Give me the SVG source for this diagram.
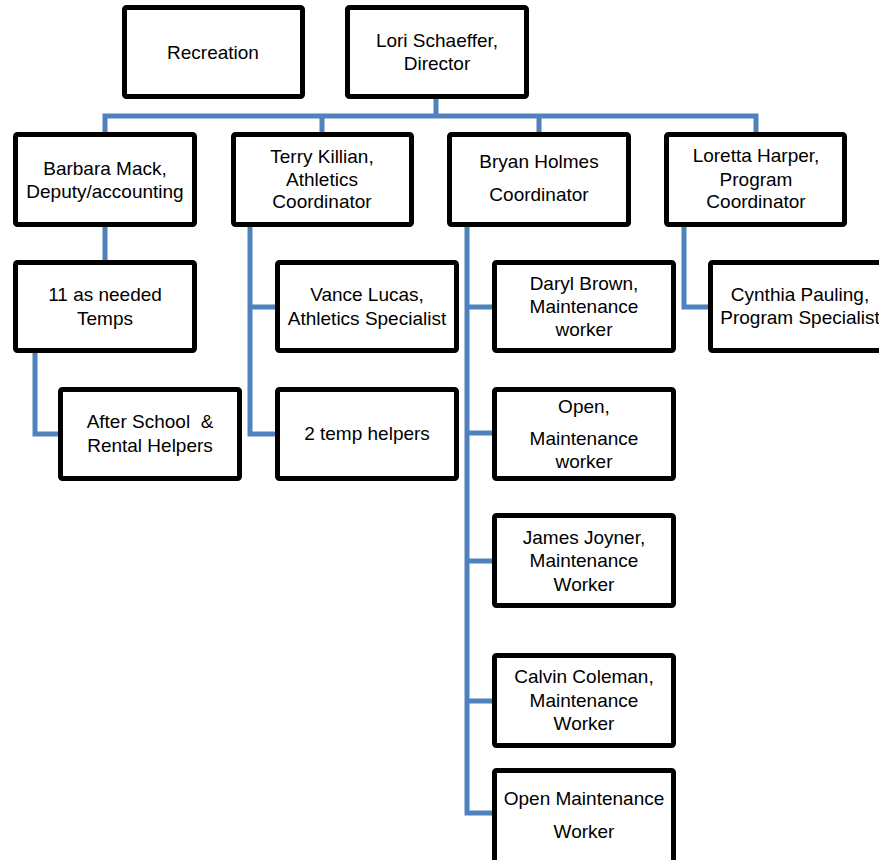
<svg xmlns="http://www.w3.org/2000/svg" width="879" height="860" viewBox="0 0 879 860">
<style>
.box{fill:#fff;stroke:#000;stroke-width:5}
.c{fill:none;stroke:#4F81BD;stroke-width:5}
text{font-family:"Liberation Sans",Arial,sans-serif;font-size:19px;fill:#000;text-anchor:middle}
</style>
<rect width="879" height="860" fill="#fff"/>
<g id="connectors">
<path class="c" d="M436,99 V116"/>
<path class="c" d="M105,132 V116 H756 V132"/>
<path class="c" d="M322,116 V132"/>
<path class="c" d="M539,116 V132"/>
<path class="c" d="M105,227 V260"/>
<path class="c" d="M35,353 V434 H58"/>
<path class="c" d="M250,227 V434 H275"/>
<path class="c" d="M250,307 H275"/>
<path class="c" d="M467,227 V813 H492"/>
<path class="c" d="M467,307 H492"/>
<path class="c" d="M467,433 H492"/>
<path class="c" d="M467,561 H492"/>
<path class="c" d="M467,701 H492"/>
<path class="c" d="M684,227 V307 H708"/>
</g>
<g id="recreation"><rect class="box" x="124.5" y="7.5" width="178" height="89" rx="2"/><text x="213" y="59">Recreation</text></g>
<g id="director"><rect class="box" x="347.5" y="7.5" width="179" height="89" rx="2"/><text x="437" y="47">Lori Schaeffer,</text><text x="437" y="70">Director</text></g>
<g id="barbara"><rect class="box" x="15.5" y="134.5" width="179" height="90" rx="2"/><text x="105" y="175">Barbara Mack,</text><text x="105" y="198">Deputy/accounting</text></g>
<g id="terry"><rect class="box" x="233.5" y="134.5" width="178" height="90" rx="2"/><text x="322" y="163">Terry Killian,</text><text x="322" y="186">Athletics</text><text x="322" y="208">Coordinator</text></g>
<g id="bryan"><rect class="box" x="449.5" y="134.5" width="179" height="90" rx="2"/><text x="539" y="168">Bryan Holmes</text><text x="539" y="201">Coordinator</text></g>
<g id="loretta"><rect class="box" x="666.5" y="134.5" width="178" height="90" rx="2"/><text x="756" y="162">Loretta Harper,</text><text x="756" y="186">Program</text><text x="756" y="208">Coordinator</text></g>
<g id="temps"><rect class="box" x="15.5" y="262.5" width="179" height="88" rx="2"/><text x="105" y="301">11 as needed</text><text x="105" y="325">Temps</text></g>
<g id="afterschool"><rect class="box" x="60.5" y="389.5" width="179" height="89" rx="2"/><text x="150" y="428" xml:space="preserve">After School  &amp;</text><text x="150" y="452">Rental Helpers</text></g>
<g id="vance"><rect class="box" x="277.5" y="262.5" width="179" height="88" rx="2"/><text x="367" y="301">Vance Lucas,</text><text x="367" y="325">Athletics Specialist</text></g>
<g id="temphelpers"><rect class="box" x="277.5" y="389.5" width="179" height="89" rx="2"/><text x="367" y="440">2 temp helpers</text></g>
<g id="daryl"><rect class="box" x="494.5" y="262.5" width="179" height="88" rx="2"/><text x="584" y="290">Daryl Brown,</text><text x="584" y="313">Maintenance</text><text x="584" y="336">worker</text></g>
<g id="open1"><rect class="box" x="494.5" y="389.5" width="179" height="89" rx="2"/><text x="584" y="413">Open,</text><text x="584" y="445">Maintenance</text><text x="584" y="468">worker</text></g>
<g id="james"><rect class="box" x="494.5" y="515.5" width="179" height="90" rx="2"/><text x="584" y="544">James Joyner,</text><text x="584" y="567">Maintenance</text><text x="584" y="591">Worker</text></g>
<g id="calvin"><rect class="box" x="494.5" y="655.5" width="179" height="90" rx="2"/><text x="584" y="683">Calvin Coleman,</text><text x="584" y="707">Maintenance</text><text x="584" y="730">Worker</text></g>
<g id="open2"><rect class="box" x="494.5" y="770.5" width="179" height="95" rx="2"/><text x="584" y="805">Open Maintenance</text><text x="584" y="838">Worker</text></g>
<g id="cynthia"><rect class="box" x="710.5" y="262.5" width="179" height="88" rx="2"/><text x="800" y="301">Cynthia Pauling,</text><text x="800" y="324">Program Specialist</text></g>
</svg>
